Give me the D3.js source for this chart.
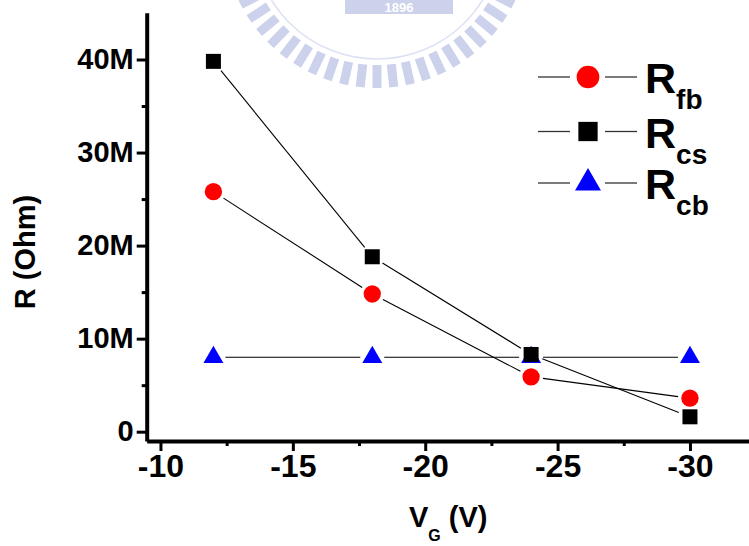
<!DOCTYPE html>
<html>
<head>
<meta charset="utf-8">
<script src="https://cdn.jsdelivr.net/npm/d3@7"></script>
<style>
  body { margin: 0; background: #fff; }
  svg { display: block; font-family: "Liberation Sans", Arial, sans-serif; }
</style>
</head>
<body>
<div id="vis-container"></div>
<script>
// data (resistance in MOhm)
const vg = [-12, -18, -24, -30];
const rfb = [25.8, 14.8, 5.9, 3.6];
const rcs = [39.8, 18.8, 8.3, 1.6];
const rcb = [8.0, 8.0, 8.0, 8.0];

const xMajor = [-10, -15, -20, -25, -30];
const xMinor = [-12.5, -17.5, -22.5, -27.5];
const yMajor = [0, 10, 20, 30, 40];
const yMinor = [5, 15, 25, 35];

const width = 749;
const height = 546;

const svg = d3.select("#vis-container")
    .append("svg")
    .attr("width", width)
    .attr("height", height);

// faint watermark at the top
{
  const wm = svg.append("g").attr("fill", "#ccd1ec").attr("stroke", "none");
  const cx = 377, cy = -65;
  for (let a = -63; a <= 63; a += 6.3) {
    wm.append("rect")
      .attr("x", -4.5).attr("y", 130)
      .attr("width", 9).attr("height", 23)
      .attr("transform", `translate(${cx},${cy}) rotate(${-a})`);
  }
  wm.append("circle")
    .attr("cx", cx).attr("cy", cy).attr("r", 124)
    .attr("fill", "none").attr("stroke", "#dde1f3").attr("stroke-width", 1.5);
  wm.append("rect").attr("x", 345).attr("y", -6).attr("width", 108).attr("height", 20);
  wm.append("text").attr("x", 399).attr("y", 12).attr("text-anchor", "middle")
    .attr("fill", "#fff").attr("font-size", 13).attr("font-weight", "bold").text("1896");
}

const x = d3.scaleLinear().domain([-9.48, -32.23]).range([146.7, 749]);
const y = d3.scaleLinear().domain([-1.0, 45.03]).range([441, 12.7]);

// axes
const xAxis = svg.append("g")
    .attr("transform", "translate(0,441)")
    .call(d3.axisBottom(x).tickValues(xMajor).tickSize(10).tickSizeOuter(0).tickPadding(4)
      .tickFormat(d => "-" + Math.abs(d)));
svg.append("g")
    .attr("transform", "translate(0,441)")
    .call(d3.axisBottom(x).tickValues(xMinor).tickSize(5).tickSizeOuter(0).tickFormat(""))
    .call(g => g.select(".domain").remove());

const yAxis = svg.append("g")
    .attr("transform", "translate(146.7,0)")
    .call(d3.axisLeft(y).tickValues(yMajor).tickSize(10).tickSizeOuter(0).tickPadding(3)
      .tickFormat(d => d === 0 ? "0" : d + "M"));
svg.append("g")
    .attr("transform", "translate(146.7,0)")
    .call(d3.axisLeft(y).tickValues(yMinor).tickSize(5).tickSizeOuter(0).tickFormat(""))
    .call(g => g.select(".domain").remove());

svg.selectAll(".domain").attr("stroke", "#000").attr("stroke-width", 4);
svg.selectAll(".tick line").attr("stroke", "#000").attr("stroke-width", 3);
xAxis.selectAll(".tick text")
    .attr("font-family", "'Liberation Sans', Arial, sans-serif")
    .attr("font-size", 32).attr("font-weight", "bold").attr("fill", "#000")
    .attr("dy", "0.7em");
yAxis.selectAll(".tick text")
    .attr("font-family", "'Liberation Sans', Arial, sans-serif")
    .attr("font-size", 29).attr("font-weight", "bold").attr("fill", "#000");

// axis titles
svg.append("text")
    .attr("x", 409).attr("y", 527)
    .attr("font-size", 29).attr("font-weight", "bold")
    .call(t => {
      t.append("tspan").text("V");
      t.append("tspan").attr("font-size", 16).attr("dy", 14).text("G");
      t.append("tspan").attr("dy", -14).text(" (V)");
    });

svg.append("text")
    .attr("transform", "translate(35,252) rotate(-90)")
    .attr("text-anchor", "middle")
    .attr("font-size", 29).attr("font-weight", "bold")
    .text("R (Ohm)");

// series
const series = [
  { name: "cb", values: rcb, shape: d3.symbolTriangle, size: 173, color: "#0000ff", ly: 183 },
  { name: "fb", values: rfb, shape: d3.symbolCircle, size: 235, color: "#ff0000", ly: 77 },
  { name: "cs", values: rcs, shape: d3.symbolSquare, size: 225, color: "#000000", ly: 131.5 }
];

const gap = 12;
const lines = svg.append("g").attr("stroke", "#000").attr("stroke-width", 1.1);
series.forEach(s => {
  const pts = vg.map((v, i) => [x(v), y(s.values[i])]);
  for (let i = 0; i < pts.length - 1; i++) {
    const [x0, y0] = pts[i], [x1, y1] = pts[i + 1];
    const len = Math.hypot(x1 - x0, y1 - y0);
    const ux = (x1 - x0) / len, uy = (y1 - y0) / len;
    lines.append("line")
      .attr("x1", x0 + ux * gap).attr("y1", y0 + uy * gap)
      .attr("x2", x1 - ux * gap).attr("y2", y1 - uy * gap);
  }
});

series.forEach(s => {
  svg.append("g").selectAll("path")
    .data(vg.map((v, i) => ({ v: v, r: s.values[i] })))
    .join("path")
    .attr("transform", d => `translate(${x(d.v)},${y(d.r)})`)
    .attr("d", d3.symbol().type(s.shape).size(s.size))
    .attr("fill", s.color);
});

// legend
const legendSizes = { cb: 292, fb: 405, cs: 372 };
const legend = svg.append("g");
series.forEach(s => {
  const row = legend.append("g").attr("transform", `translate(0,${s.ly})`);
  row.append("line").attr("x1", 538).attr("x2", 570).attr("stroke", "#333").attr("stroke-width", 1.3);
  row.append("line").attr("x1", 605).attr("x2", 637).attr("stroke", "#333").attr("stroke-width", 1.3);
  row.append("path")
    .attr("transform", "translate(588,0)")
    .attr("d", d3.symbol().type(s.shape).size(legendSizes[s.name]))
    .attr("fill", s.color);
  const t = row.append("text")
    .attr("x", 645).attr("y", 16)
    .attr("font-size", 43).attr("font-weight", "bold");
  t.append("tspan").text("R");
  t.append("tspan").attr("font-size", 28).attr("dy", 16).text(s.name);
});
</script>
</body>
</html>
